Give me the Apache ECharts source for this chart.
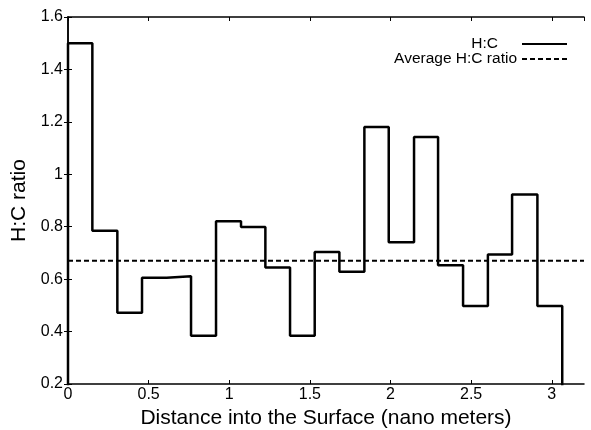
<!DOCTYPE html>
<html><head><meta charset="utf-8">
<script src="https://cdn.jsdelivr.net/npm/echarts@6/dist/echarts.min.js"></script>
<style>html,body{margin:0;padding:0;background:#fff}#c{width:591px;height:430px}</style>
</head><body><div id="c"></div>
<script>
// Bin left edges (nm) and H:C values
const binEdges = [0, 0.151, 0.306, 0.459, 0.612, 0.763, 0.918, 1.073, 1.224, 1.377, 1.530, 1.683, 1.838, 1.989, 2.146, 2.295, 2.450, 2.604, 2.754, 2.911, 3.065];
const hcValues = [1.50, 0.785, 0.472, 0.605, 0.611, 0.384, 0.821, 0.799, 0.644, 0.384, 0.704, 0.628, 1.18, 0.741, 1.142, 0.653, 0.498, 0.694, 0.923, 0.498];
const averageRatio = 0.67;
const xTicks = [0, 0.5, 1, 1.5, 2, 2.5, 3];
const yTicks = [0.2, 0.4, 0.6, 0.8, 1, 1.2, 1.4, 1.6];

const stepData = [[binEdges[0], 0]];
hcValues.forEach((v, i) => stepData.push([binEdges[i], v]));
stepData.push([binEdges[binEdges.length - 1], 0]);

const font = 'Liberation Sans, Arial, sans-serif';
const chart = echarts.init(document.getElementById('c'), null, {renderer: 'canvas'});
const axisLine = {show: true, lineStyle: {color: '#000', width: 1.5}};
const tick = {show: true, inside: true, length: 4, lineStyle: {color: '#000', width: 1}};
const legendCommon = {
  orient: 'vertical', align: 'right', itemGap: 0, itemWidth: 45, itemHeight: 14,
  itemStyle: {opacity: 0}, padding: 0
};
chart.setOption({
  animation: false,
  grid: {left: 68, top: 17, right: 7, bottom: 46, outerBoundsMode: 'none', containLabel: false},
  legend: [
    Object.assign({}, legendCommon, {right: 23, top: 36, data: ['H:C'],
      textStyle: {fontFamily: font, fontSize: 15.5, color: '#000', padding: [0, 19, 0, 0]}}),
    Object.assign({}, legendCommon, {right: 23, top: 51, data: ['Average H:C ratio'],
      textStyle: {fontFamily: font, fontSize: 15.5, color: '#000', padding: [0, 0, 0, 0]}})
  ],
  xAxis: [{
    type: 'value', min: 0, max: 3.2, interval: 0.5,
    axisLine, axisTick: tick, splitLine: {show: false},
    axisLabel: {fontFamily: font, fontSize: 16, color: '#000', margin: 3,
      showMaxLabel: false, formatter: v => xTicks.includes(v) ? String(v) : ''},
    name: 'Distance into the Surface (nano meters)', nameLocation: 'middle', nameGap: 24,
    nameTextStyle: {fontFamily: font, fontSize: 21, color: '#000'}
  }, {
    type: 'value', min: 0, max: 3.2, interval: 0.5, position: 'top',
    axisLine, axisTick: tick, axisLabel: {show: false}, splitLine: {show: false}
  }],
  yAxis: [{
    type: 'value', min: 0.2, max: 1.6, interval: 0.2,
    axisLine, axisTick: tick, splitLine: {show: false},
    axisLabel: {fontFamily: font, fontSize: 16, color: '#000', margin: 5,
      formatter: v => { const t = yTicks.find(y => Math.abs(y - v) < 1e-9); return t === undefined ? '' : String(t); }},
    name: 'H:C ratio', nameLocation: 'middle', nameGap: 30,
    nameTextStyle: {fontFamily: font, fontSize: 21, color: '#000'}
  }, {
    type: 'value', min: 0.2, max: 1.6, interval: 0.2, position: 'right',
    axisLine, axisTick: tick, axisLabel: {show: false}, splitLine: {show: false}
  }],
  series: [{
    name: 'H:C', type: 'line', step: 'end', data: stepData,
    symbol: 'none', clip: true,
    lineStyle: {color: '#000', width: 2.5}, itemStyle: {color: '#000'}
  }, {
    name: 'Average H:C ratio', type: 'line',
    data: [[0, averageRatio], [3.2, averageRatio]],
    symbol: 'none', clip: true,
    lineStyle: {color: '#000', width: 2, type: [5, 3]}, itemStyle: {color: '#000'}
  }]
});
</script></body></html>
